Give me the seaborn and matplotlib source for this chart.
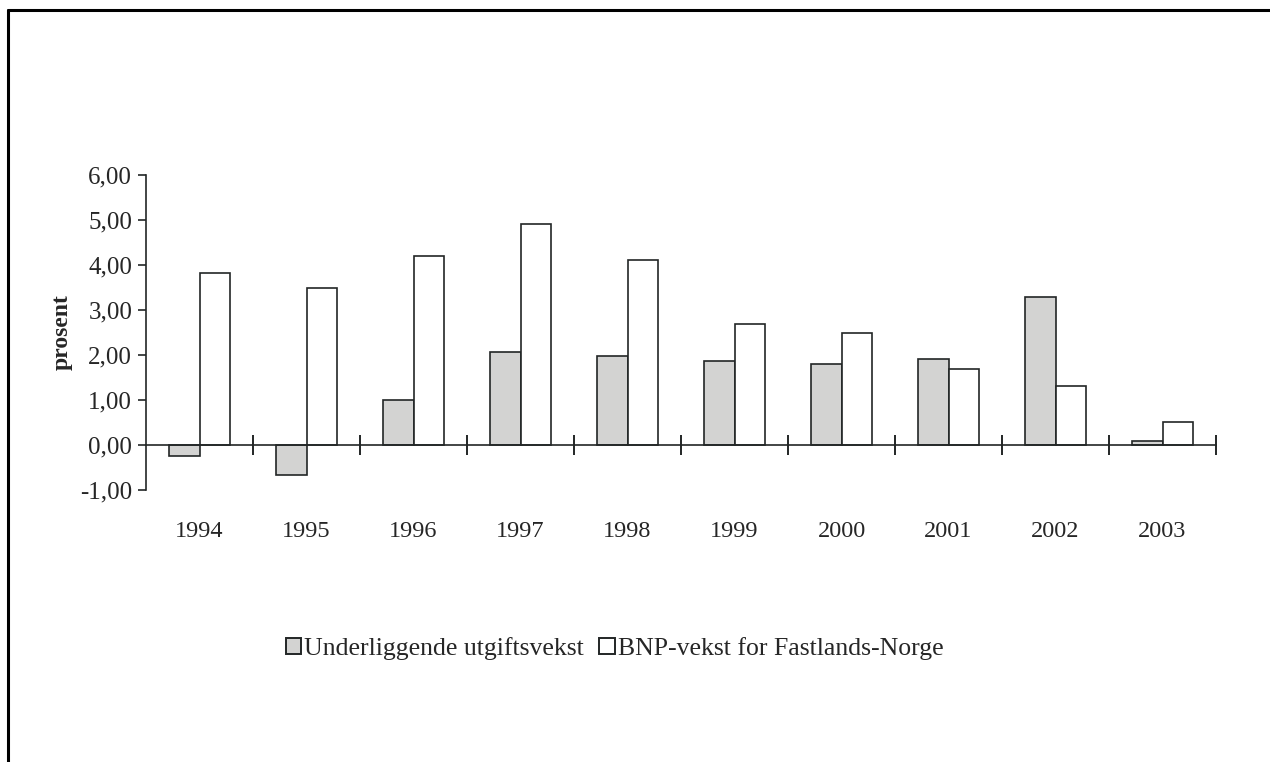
import pandas as pd
import matplotlib
matplotlib.use("Agg")
import matplotlib.pyplot as plt
import seaborn as sns
from matplotlib.lines import Line2D
from matplotlib.patches import Patch
from matplotlib.ticker import FuncFormatter, FixedLocator

years = ["1994", "1995", "1996", "1997", "1998", "1999", "2000", "2001", "2002", "2003"]
utgift = [-0.25, -0.67, 1.01, 2.06, 1.97, 1.86, 1.80, 1.90, 3.28, 0.08]
bnp = [3.82, 3.49, 4.21, 4.92, 4.12, 2.69, 2.48, 1.69, 1.30, 0.50]
series = ["Underliggende utgiftsvekst", "BNP-vekst for Fastlands-Norge"]
colors = ["#d3d3d2", "#ffffff"]

df = pd.DataFrame({
    "year": years * 2,
    "value": utgift + bnp,
    "serie": [series[0]] * len(years) + [series[1]] * len(years),
})

sns.set_style("ticks")
plt.rcParams["font.family"] = ["Liberation Serif", "DejaVu Serif"]

fig = plt.figure(figsize=(12.7, 7.62), dpi=100)
ax = fig.add_axes([0.115, 0.357, 0.8425, 0.4133])

sns.barplot(data=df, x="year", y="value", hue="serie", hue_order=series,
            palette=colors, width=0.57, gap=0, edgecolor="#222626",
            linewidth=1.2, ax=ax, legend=False)

ax.set_xlim(-0.5, len(years) - 0.5)
ax.set_ylim(-1, 6)
ax.set_yticks(range(-1, 7))
ax.yaxis.set_major_formatter(FuncFormatter(lambda v, p: f"{v:.2f}".replace(".", ",")))
ax.tick_params(axis="y", direction="out", length=6, width=1.2, labelsize=18, pad=4, color="#222626")

# x axis line sits at zero, ticks at category boundaries
ax.spines["top"].set_visible(False)
ax.spines["right"].set_visible(False)
ax.spines["bottom"].set_position(("data", 0))
for s in ["left", "bottom"]:
    ax.spines[s].set_linewidth(1.2)
    ax.spines[s].set_color("#222626")
ax.xaxis.set_minor_locator(FixedLocator([i + 0.5 for i in range(len(years))]))
ax.tick_params(axis="x", which="minor", direction="inout", length=15, width=1.4, color="#222626")
ax.tick_params(axis="x", which="major", length=0, labelsize=17.5, pad=55)

ax.set_xlabel("")
ax.set_ylabel("prosent", fontsize=17, fontweight="bold", labelpad=5)

handles = [Patch(facecolor=c, edgecolor="#222626", linewidth=1.4) for c in colors]
fig.legend(handles, series, loc="center", bbox_to_anchor=(0.484, 0.149), ncol=2,
           frameon=False, fontsize=18.5, handlelength=0.6, handleheight=0.6,
           handletextpad=0.12, columnspacing=0.6)

# page frame
fig.add_artist(Line2D([8 / 1270, 8 / 1270], [0, 1 - 10 / 762], color="black", linewidth=2.2,
                      transform=fig.transFigure))
fig.add_artist(Line2D([8 / 1270, 1], [1 - 10 / 762, 1 - 10 / 762], color="black", linewidth=2.2,
                      transform=fig.transFigure))

fig.savefig("out.png", dpi=100)
